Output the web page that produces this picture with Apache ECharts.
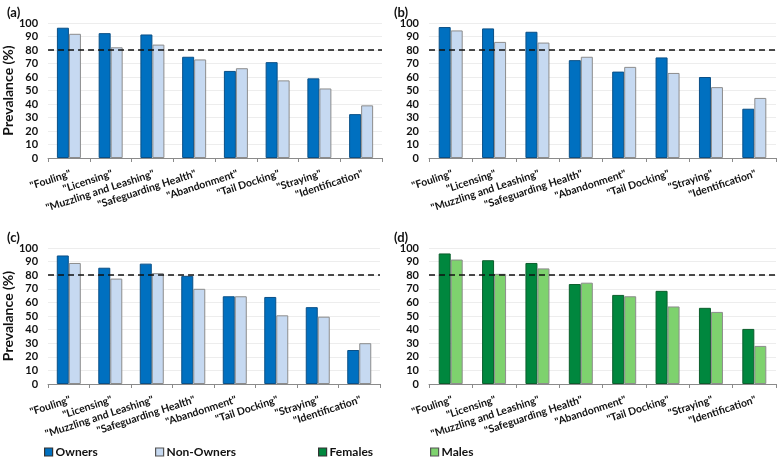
<!DOCTYPE html>
<html><head><meta charset="utf-8">
<script src="https://cdn.jsdelivr.net/npm/echarts@6/dist/echarts.min.js"></script>
<style>html,body{margin:0;padding:0;background:#fff}#c{width:777px;height:459px}</style>
</head><body><div id="c"></div>
<script>
const categories = ['"Fouling"','"Licensing"','"Muzzling and Leashing"','"Safeguarding Health"','"Abandonment"','"Tail Docking"','"Straying"','"Identification"'];
const ownersA = [96.5, 92.5, 91.5, 75, 64.5, 71, 59, 32.5];
const nonOwnersA = [92, 82, 84, 73, 66.5, 57.5, 51.5, 39];
const ownersB = [97, 96, 93.5, 72.5, 64, 74.5, 60, 36.5];
const nonOwnersB = [94.5, 86, 85.5, 75, 67.5, 63, 52.5, 44.5];
const ownersC = [94.5, 85.5, 88.5, 79.5, 64.5, 64, 56.5, 25];
const nonOwnersC = [89, 77.5, 81.5, 70, 64.5, 50.5, 49.5, 30];
const females = [96, 91, 89, 73.5, 65.5, 68.5, 56, 40.5];
const males = [91.5, 81, 85, 74.5, 64.5, 57, 53, 28];
const threshold = 80;
const panelLabels = ['(a)', '(b)', '(c)', '(d)'];
const yTitle = 'Prevalance (%)';

const FONT = "Lato, sans-serif";
const C = {owner:'#0070C0', non:'#C6D9F1', fem:'#00873E', male:'#7ED26E'};
const grids = [
  {left:44, top:23, width:338, height:135},
  {left:429, top:23, width:347, height:135},
  {left:44, top:248, width:336, height:136},
  {left:429, top:248, width:347, height:136}
];
const xAxes = grids.map((g,i)=>({
  type:'category', gridIndex:i, data:categories,
  axisLine:{lineStyle:{color:'#8a8a8a', width:1}},
  axisTick:{show:true, length:4, lineStyle:{color:'#8a8a8a'}},
  axisLabel:{rotate:18, margin:10, verticalAlign:'top', align:'right', fontFamily:FONT, fontWeight:'bold', fontSize:10.5, color:'#111', interval:0}
}));
const yAxes = grids.map((g,i)=>({
  type:'value', gridIndex:i, min:0, max:100, interval:10,
  name:(i===0||i===2)?yTitle:'', nameLocation:'middle', nameGap:30,
  nameTextStyle:{fontFamily:FONT, fontWeight:'bold', fontSize:14, color:'#111'},
  axisLine:{show:false}, axisTick:{show:false},
  axisLabel:{fontFamily:FONT, fontWeight:'bold', fontSize:11, color:'#111', margin:10},
  splitLine:{lineStyle:{color:'#ededed', width:1}}
}));
function bar(name, data, i, color, border){
  return {name, type:'bar', xAxisIndex:i, yAxisIndex:i, data, barWidth:12, barGap:'0%',
    itemStyle:{color, borderColor:border, borderWidth:1}};
}
const ml = {silent:true, symbol:'none', label:{show:false},
  lineStyle:{color:'#111', type:[6,4], width:1.5}, data:[{yAxis:threshold}]};
const series = [
  bar('Owners', ownersA, 0, C.owner, '#0a4f86'), bar('Non-Owners', nonOwnersA, 0, C.non, '#8c8c8c'),
  bar('Owners', ownersB, 1, C.owner, '#0a4f86'), bar('Non-Owners', nonOwnersB, 1, C.non, '#8c8c8c'),
  bar('Owners', ownersC, 2, C.owner, '#0a4f86'), bar('Non-Owners', nonOwnersC, 2, C.non, '#8c8c8c'),
  bar('Females', females, 3, C.fem, '#0b5e2c'), bar('Males', males, 3, C.male, '#8c8c8c')
];
[0,2,4,6].forEach(k=>{ series[k].markLine = ml; });
function leg(name, left, border){
  return {data:[name], left, top:441, itemWidth:8, itemHeight:8, itemGap:4, icon:'rect',
    itemStyle:{borderColor:border, borderWidth:1.2},
    textStyle:{fontFamily:FONT, fontWeight:'bold', fontSize:12, color:'#111', padding:[0,0,0,-2]}, selectedMode:false};
}
const titlePos = [[2,1],[389,1],[2,226],[389,226]];
const option = {
  animation:false, backgroundColor:'#fff',
  title: panelLabels.map((t,i)=>({text:t, left:titlePos[i][0], top:titlePos[i][1],
    textStyle:{fontFamily:FONT, fontWeight:'bold', fontSize:13, color:'#111'}})),
  grid: grids, xAxis: xAxes, yAxis: yAxes, series,
  legend:[leg('Owners',39,'#333'), leg('Non-Owners',150,'#555'), leg('Females',313,'#333'), leg('Males',425,'#555')]
};
echarts.init(document.getElementById('c')).setOption(option);
</script></body></html>
